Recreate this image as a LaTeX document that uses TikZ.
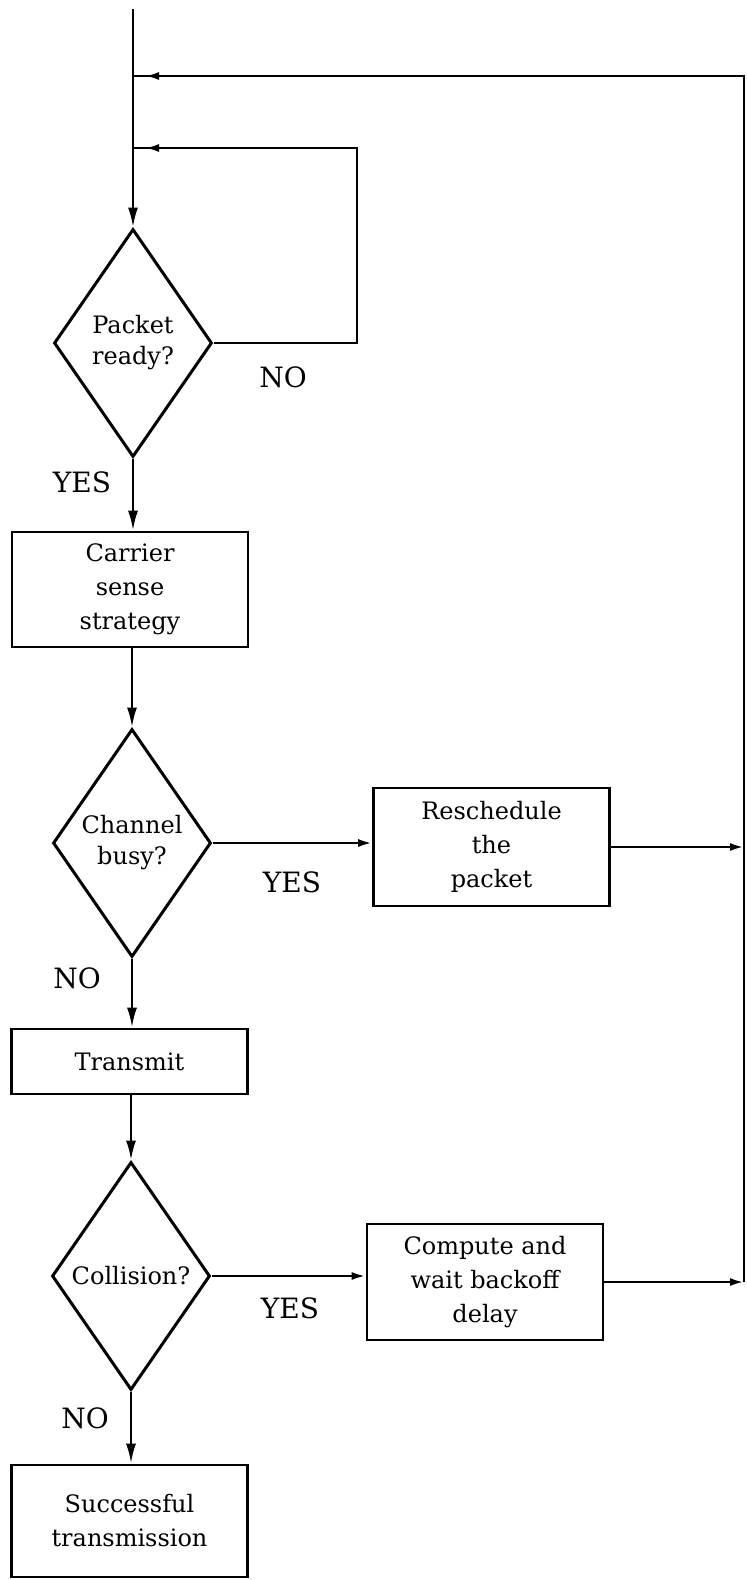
\documentclass[tikz,border=0pt]{standalone}
\usepackage{fontspec}
\setmainfont{DejaVu Serif}
\usetikzlibrary{shapes.geometric,arrows.meta,decorations.markings}

\tikzset{
  proc/.style={draw, line width=1.3pt, minimum width=118pt, inner sep=0pt, align=center,
    font=\fontsize{12}{17}\selectfont},
  dec/.style={diamond, draw, line width=1.5pt, minimum width=79pt, minimum height=114pt,
    aspect=0.7, inner sep=0pt, align=center, font=\fontsize{12}{15.5}\selectfont},
  lbl/.style={inner sep=0pt, font=\fontsize{14}{16}\selectfont},
  varr/.style={line width=1.3pt, -{Latex[length=10pt,width=5pt]}},
  harr/.style={line width=1.3pt, -{Latex[length=7pt,width=4pt]}},
  midarr/.style={line width=1.3pt, postaction={decorate},
    decoration={markings, mark=at position -6pt with {\arrow{Latex[length=7pt,width=4pt]}}}}
}

\begin{document}
\begin{tikzpicture}[x=0.5pt,y=0.5pt,yscale=-1]
    \useasboundingbox (0,0) rectangle (746,1580);

    %Shape: Diamond
    \node[dec] (ready) at (133,343) {Packet\\ready?};
    %Shape: Rectangle
    \node[proc, minimum height=57.5pt] (sense) at (130,589.5) {Carrier\\sense\\strategy};
    %Shape: Diamond
    \node[dec] (busy) at (132,843) {Channel\\busy?};
    %Shape: Rectangle
    \node[proc, minimum height=59pt] (resched) at (491.5,847) {Reschedule\\the\\packet};
    %Shape: Rectangle
    \node[proc, minimum height=32.5pt] (transmit) at (129.5,1061.5) {Transmit};
    %Shape: Diamond
    \node[dec] (coll) at (131,1276) {Collision?};
    %Shape: Rectangle
    \node[proc, minimum height=58pt] (backoff) at (485,1282) {Compute and\\wait backoff\\delay};
    %Shape: Rectangle
    \node[proc, minimum height=56pt] (success) at (129.5,1521) {Successful\\transmission};

    \coordinate (start) at (133,9);
    \coordinate (loop) at (357,148);
    \coordinate (ret) at (744,76);

    %Straight Lines
    \draw[varr] (start) -- (ready.north);
    \draw[midarr] (ready.east) -| (loop) -- (loop -| start);
    \draw[varr] (ready.south) -- (ready.south |- sense.north);
    \draw[varr] (busy.north |- sense.south) -- (busy.north);
    \draw[harr] (busy.east) -- (busy.east -| resched.west);
    \draw[harr] (resched.east) -- (resched.east -| ret);
    \draw[varr] (busy.south) -- (busy.south |- transmit.north);
    \draw[varr] (coll.north |- transmit.south) -- (coll.north);
    \draw[harr] (coll.east) -- (coll.east -| backoff.west);
    \draw[harr] (backoff.east) -- (backoff.east -| ret);
    \draw[midarr] (backoff.east -| ret) -- (ret) -- (ret -| start);
    \draw[varr] (coll.south) -- (coll.south |- success.north);

    % Text Node
    \node[lbl] (noA) at (283,377) {NO};
    % Text Node
    \node[lbl] (yesA) at (82,482) {YES};
    % Text Node
    \node[lbl] (yesB) at (292,882) {YES};
    % Text Node
    \node[lbl] (noB) at (77,978) {NO};
    % Text Node
    \node[lbl] (yesC) at (290,1308) {YES};
    % Text Node
    \node[lbl] (noC) at (85,1418) {NO};

\end{tikzpicture}
\end{document}
